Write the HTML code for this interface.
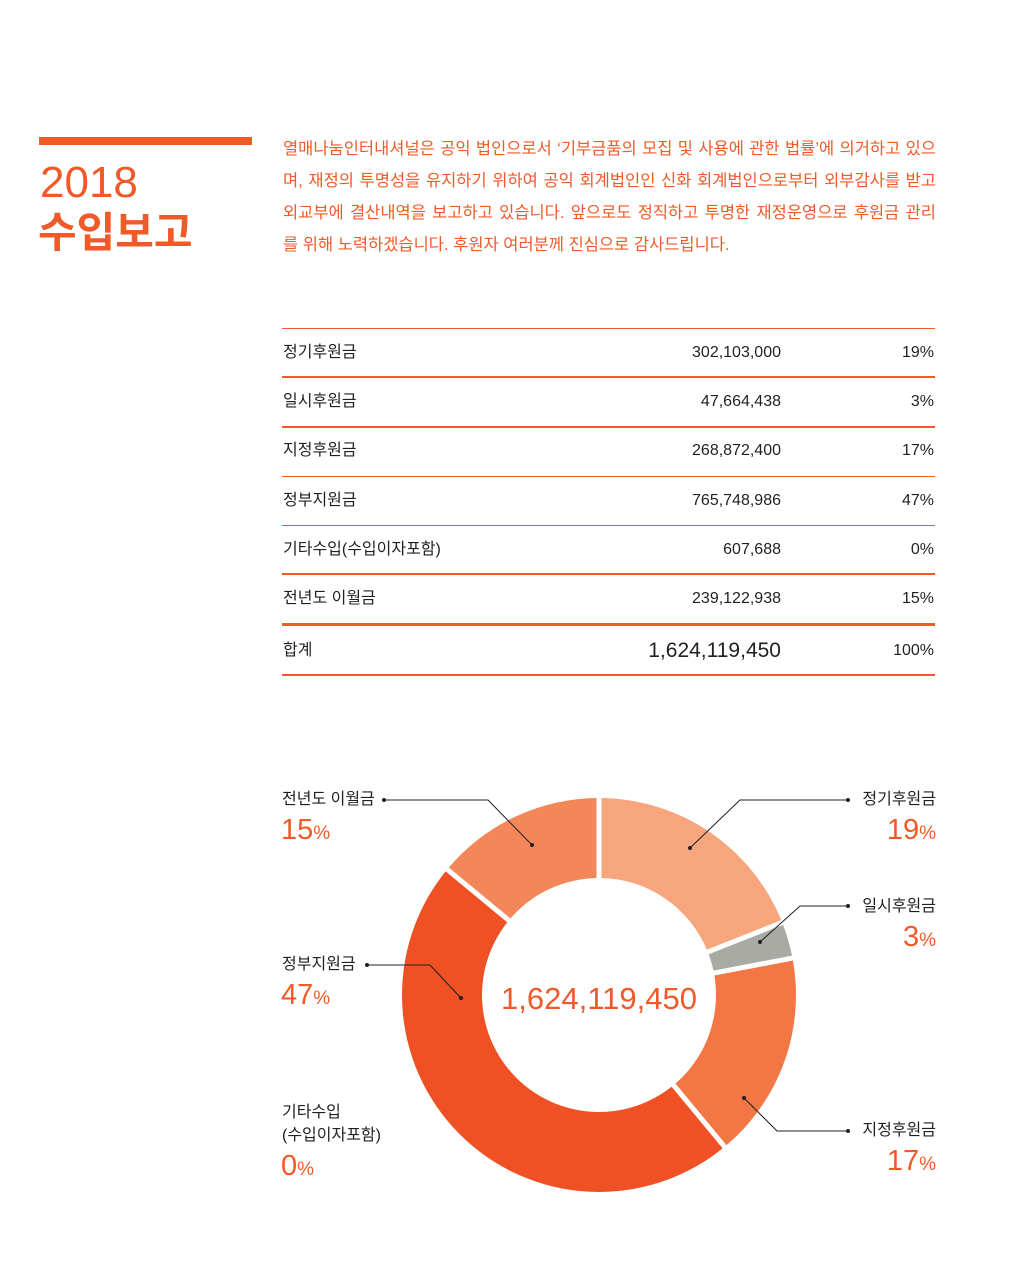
<!DOCTYPE html>
<html><head><meta charset="utf-8">
<style>
body{margin:0;background:#fff;}
#p{position:relative;width:1028px;height:1272px;overflow:hidden;font-family:"Liberation Sans","Noto Sans CJK KR",sans-serif;color:#231f20;}
.a{position:absolute;white-space:nowrap;}
.o{color:#f05a28;}
.hl{position:absolute;left:282px;width:653px;background:#f05a28;}
.lab{font-size:16px;line-height:20px;}
.pc{font-size:29px;line-height:32px;color:#f05a28;font-weight:300;}
.pc small{font-size:19px;}
.pl{position:absolute;left:283px;width:653px;font-size:16.5px;line-height:22px;color:#f05a28;white-space:nowrap;text-align:justify;text-align-last:justify;}
</style></head><body><div id="p">
<div class="a" style="left:39px;top:137px;width:213px;height:8px;background:#f05a28"></div>
<div class="a o" style="left:40px;top:158px;font-size:44px;line-height:50px;">2018</div>
<div class="a o" style="left:38px;top:208px;font-size:42px;line-height:50px;font-weight:bold;">수입보고</div>
<div class="pl" style="top:138px">열매나눔인터내셔널은 공익 법인으로서 ‘기부금품의 모집 및 사용에 관한 법률’에 의거하고 있으</div>
<div class="pl" style="top:170px">며, 재정의 투명성을 유지하기 위하여 공익 회계법인인 신화 회계법인으로부터 외부감사를 받고</div>
<div class="pl" style="top:202px">외교부에 결산내역을 보고하고 있습니다. 앞으로도 정직하고 투명한 재정운영으로 후원금 관리</div>
<div class="pl" style="top:234px;text-align-last:left;width:auto">를 위해 노력하겠습니다. 후원자 여러분께 진심으로 감사드립니다.</div>

<div class="hl" style="top:328px;height:1px"></div>
<div class="hl" style="top:376px;height:2px"></div>
<div class="hl" style="top:426px;height:2px"></div>
<div class="hl" style="top:476px;height:1px"></div>
<div class="hl" style="top:525px;height:1px"></div>
<div class="hl" style="top:573px;height:2px"></div>
<div class="hl" style="top:623px;height:3px"></div>
<div class="hl" style="top:674px;height:2px"></div>

<div id="rows"></div>

<svg class="a" style="left:0;top:0" width="1028" height="1272" id="sv"></svg>

<div class="a o" style="left:599px;top:981px;transform:translateX(-50%);font-size:31px;line-height:36px;font-weight:300;">1,624,119,450</div>

<div class="a lab" style="left:282px;top:790px">전년도 이월금</div>
<div class="a pc" style="left:281px;top:814px">15<small>%</small></div>
<div class="a lab" style="left:282px;top:955px">정부지원금</div>
<div class="a pc" style="left:281px;top:979px">47<small>%</small></div>
<div class="a lab" style="left:282px;top:1103px">기타수입</div>
<div class="a lab" style="left:282px;top:1126px">(수입이자포함)</div>
<div class="a pc" style="left:281px;top:1150px">0<small>%</small></div>
<div class="a lab" style="right:92px;top:790px">정기후원금</div>
<div class="a pc" style="right:92px;top:814px">19<small>%</small></div>
<div class="a lab" style="right:92px;top:897px">일시후원금</div>
<div class="a pc" style="right:92px;top:921px">3<small>%</small></div>
<div class="a lab" style="right:92px;top:1121px">지정후원금</div>
<div class="a pc" style="right:92px;top:1145px">17<small>%</small></div>
</div>
<script>
var rows=[["정기후원금","302,103,000","19%",353],["일시후원금","47,664,438","3%",402],["지정후원금","268,872,400","17%",451],["정부지원금","765,748,986","47%",501],["기타수입(수입이자포함)","607,688","0%",550],["전년도 이월금","239,122,938","15%",599],["합계","1,624,119,450","100%",651]];
var h="";rows.forEach(function(r,i){var fs=i==6?21:16;
h+='<div class="a" style="left:283px;top:'+(r[3]-11)+'px;font-size:16px;line-height:22px">'+r[0]+'</div>';
h+='<div class="a" style="right:247px;top:'+(r[3]-13)+'px;font-size:'+fs+'px;line-height:26px">'+r[1]+'</div>';
h+='<div class="a" style="right:94px;top:'+(r[3]-11)+'px;font-size:16px;line-height:22px">'+r[2]+'</div>';});
document.getElementById("rows").innerHTML=h;
var cx=599,cy=995,R=197,r=117;
var seg=[[0,68.4,"#f6a57c"],[68.4,79.2,"#aaaaa5"],[79.2,140.4,"#f27745"],[140.4,309.6,"#ef5125"],[309.6,360,"#f3875a"]];
function pt(a,rad){a=(a-90)*Math.PI/180;return (cx+rad*Math.cos(a)).toFixed(2)+","+(cy+rad*Math.sin(a)).toFixed(2);}
var s="";seg.forEach(function(g){var l=(g[1]-g[0])>180?1:0;
s+='<path d="M'+pt(g[0],R)+' A'+R+','+R+' 0 '+l+' 1 '+pt(g[1],R)+' L'+pt(g[1],r)+' A'+r+','+r+' 0 '+l+' 0 '+pt(g[0],r)+' Z" fill="'+g[2]+'"/>';});
seg.forEach(function(g){s+='<line x1="'+pt(g[0],r-2).split(",")[0]+'" y1="'+pt(g[0],r-2).split(",")[1]+'" x2="'+pt(g[0],R+2).split(",")[0]+'" y2="'+pt(g[0],R+2).split(",")[1]+'" stroke="#fff" stroke-width="5"/>';});
var L=[[[690,848],[740,800],[848,800]],[[760,942],[800,906],[848,906]],[[744,1098],[777,1131],[848,1131]],[[461,998],[430,965],[367,965]],[[532,845],[488,800],[384,800]]];
L.forEach(function(p){s+='<polyline points="'+p.map(function(q){return q.join(",")}).join(" ")+'" fill="none" stroke="#231f20" stroke-width="1"/>';
s+='<circle cx="'+p[0][0]+'" cy="'+p[0][1]+'" r="2" fill="#231f20"/><circle cx="'+p[2][0]+'" cy="'+p[2][1]+'" r="2" fill="#231f20"/>';});
document.getElementById("sv").innerHTML=s;
</script>
</body></html>
